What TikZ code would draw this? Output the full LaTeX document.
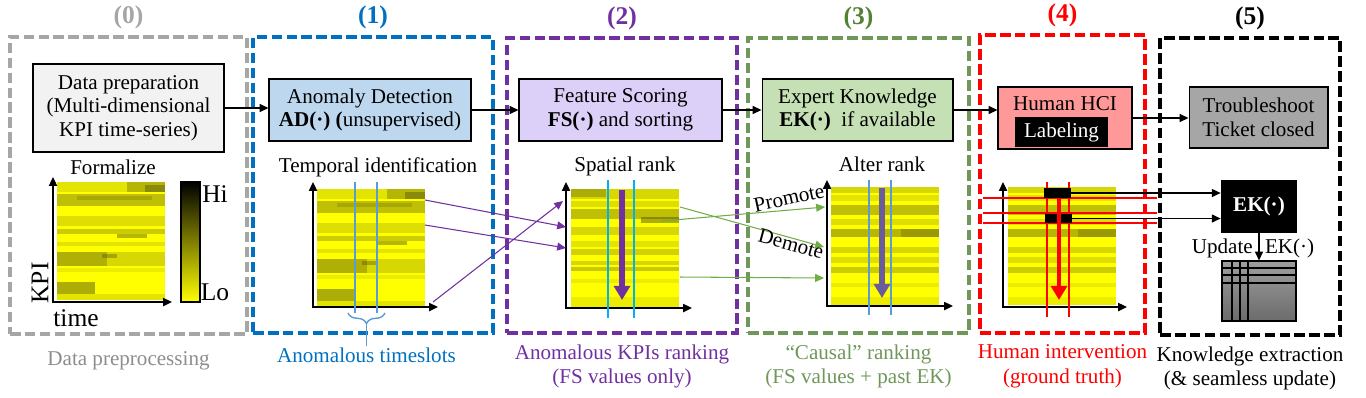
\documentclass[tikz,border=0pt]{standalone}
\usepackage{fontspec}
\setmainfont{Liberation Serif}
\usepackage{xcolor}
\usepackage{tikz}
\usetikzlibrary{arrows.meta,positioning,decorations.pathreplacing}

\definecolor{stgray}{HTML}{A6A6A6}
\definecolor{stblue}{HTML}{0070C0}
\definecolor{stpurple}{HTML}{7030A0}
\definecolor{stgreen}{HTML}{70975A}
\definecolor{stdkgreen}{HTML}{548235}
\definecolor{stred}{HTML}{FF0000}
\definecolor{prepfill}{HTML}{F2F2F2}
\definecolor{adfill}{HTML}{BDD7EE}
\definecolor{fsfill}{HTML}{DCD0F8}
\definecolor{ekfill}{HTML}{C5E0B4}
\definecolor{hcifill}{HTML}{FF9999}
\definecolor{mapyellow}{HTML}{FFFF00}
\definecolor{mapdark}{HTML}{4A4A10}
\definecolor{slotblue}{HTML}{5B9BD5}
\definecolor{slotcyan}{HTML}{00B0F0}
\definecolor{arrgreen}{HTML}{70AD47}
\definecolor{alterarr}{HTML}{6A5C9C}

% heat map of KPIs: top-left corner x, y, list of stripes
\newcommand{\kpimap}[3]{%
  \begin{scope}[shift={(#1,#2)}]
    \fill[mapyellow] (0,0) rectangle (108,118);
    \foreach \ya/\yb/\xa/\xb/\op in #3
      \fill[mapdark, opacity=\op] (\xa,\ya) rectangle (\xb,\yb);
  \end{scope}}

\def\mapraw{0/10/0/108/0.15, 0/10/70/108/0.3, 3/10/88/108/0.4, 12/24/0/108/0.35,
  14/18/20/95/0.2, 34/44/0/108/0.18, 47/52/0/108/0.28, 52/56/60/90/0.4,
  60/64/0/108/0.15, 70/84/0/108/0.22, 70/84/0/50/0.28, 72/76/45/60/0.35,
  86/90/0/108/0.1, 100/112/0/38/0.45, 112/118/0/108/0.15}
\def\mapsorted{0/10/0/108/0.22, 0/8/0/35/0.3, 12/18/0/108/0.18, 20/30/0/108/0.35,
  28/34/70/108/0.45, 38/46/0/108/0.22, 52/58/0/108/0.15, 60/66/0/108/0.25,
  72/76/0/108/0.22, 78/82/0/108/0.3, 90/94/0/108/0.1, 108/118/0/108/0.1}
\def\mapaltered{0/6/0/108/0.22, 8/14/0/108/0.15, 18/28/0/108/0.35, 32/38/0/108/0.18,
  42/50/0/108/0.4, 42/50/70/108/0.25, 60/66/0/108/0.22, 70/76/0/108/0.18,
  80/86/0/108/0.28, 96/100/0/108/0.1, 110/118/0/108/0.1}

\begin{document}
\begin{tikzpicture}[
  % --- global style ---
  x=0.02cm, y=-0.02cm,
  >={Triangle[length=5pt,width=4.5pt]},
  every node/.style={font=\fontsize{12}{13.5}\selectfont, inner sep=1pt},
  panel/.style={
    dash pattern=on 6pt off 2.5pt, line width=2.2pt,
    inner sep=0pt
  },
  box/.style={
    draw, line width=0.6pt, align=center,
    minimum height=1.24cm
  },
  title/.style={font=\fontsize{14.5}{16}\selectfont\bfseries},
  caption/.style={align=center, font=\fontsize{12}{13.8}\selectfont},
  big/.style={font=\fontsize{14.5}{16}\selectfont},
  axis/.style={<->, line width=1.1pt},
  arr/.style={->, line width=0.8pt},
  parr/.style={->, stpurple, line width=0.6pt},
  garr/.style={->, arrgreen, line width=0.6pt},
  slot/.style={line width=0.8pt},
  rankarr/.style={-{Triangle[length=8pt,width=9pt]}, line width=3pt},
  redline/.style={stred, line width=0.7pt},
]
\useasboundingbox (0,0) rectangle (1366,397);

% ====== Dashed panels ======
\node[panel, draw=stgray, minimum width=4.74cm, minimum height=5.94cm] (p0) at (128.5,185.5) {};
\node[panel, draw=stblue, minimum width=4.8cm, minimum height=5.92cm] (p1) at (373,185) {};
\node[panel, draw=stpurple, minimum width=4.6cm, minimum height=5.9cm] (p2) at (622,185.5) {};
\node[panel, draw=stgreen, minimum width=4.42cm, minimum height=5.9cm] (p3) at (858.5,185.5) {};
\node[panel, draw=stred, minimum width=3.3cm, minimum height=5.96cm] (p4) at (1062.5,184) {};
\node[panel, draw=black, minimum width=3.6cm, minimum height=5.94cm] (p5) at (1250,186.5) {};

% titles
\node[title, text=stgray, above=0.08cm of p0] {(0)};
\node[title, text=stblue, above=0.08cm of p1] {(1)};
\node[title, text=stpurple, above=0.08cm of p2] {(2)};
\node[title, text=stdkgreen, above=0.08cm of p3] {(3)};
\node[title, text=stred, above=0.08cm of p4] {(4)};
\node[title, above=0.08cm of p5] {(5)};

% captions
\node[caption, text=stgray!85!black, below=0.28cm of p0] {Data preprocessing};
\node[caption, text=stpurple, below=0.16cm of p2] {Anomalous KPIs ranking\\(FS values only)};
\node[caption, text=stgreen, below=0.16cm of p3] {“Causal” ranking\\(FS values + past EK)};
\node[caption, text=stred, below=0.16cm of p4] {Human intervention\\(ground truth)};
\node[caption, below=0.16cm of p5] {Knowledge extraction\\(\& seamless update)};

% ====== Main pipeline ======
\node[box, fill=prepfill, minimum width=3.82cm, minimum height=1.76cm] (prep) at (128.5,108)
  {Data preparation\\(Multi-dimensional\\KPI time-series)};
\node[box, fill=adfill, minimum width=4.04cm] (ad) at (370,110)
  {Anomaly Detection\\\textbf{AD(·) (}unsupervised)};
\node[box, fill=fsfill, minimum width=4.06cm] (fs) at (620.5,110)
  {Feature Scoring\\\textbf{FS(·)} and sorting};
\node[box, fill=ekfill, minimum width=3.82cm] (ek) at (857.5,110)
  {Expert Knowledge\\\textbf{EK(·)}\ \ if available};
\node[box, fill=hcifill, minimum width=2.68cm] (hci) at (1065,118) {};
\node (hcitext) at (1065,104) {Human HCI};
\node[fill=black, text=white, minimum width=1.86cm, minimum height=0.6cm, inner sep=0pt]
  (labeling) at (1061.5,132) {Labeling};
\node[box, fill=stgray, minimum width=2.78cm, minimum height=1.22cm] (ticket) at (1258.5,117.5)
  {Troubleshoot\\Ticket closed};

\draw[arr] (prep.east) -- (prep.east -| ad.west);
\draw[arr] (ad) -- (fs);
\draw[arr] (fs) -- (ek);
\draw[arr] (ek.east) -- (ek.east -| hci.west);
\draw[arr] (hci.east) -- (hci.east -| ticket.west);

% ====== Sub-titles ======
\node (formalize) at (113,167) {Formalize};
\node (temporal) at (378,167) {Temporal identification};
\node (spatial) at (625,166) {Spatial rank};
\node (alter) at (882,164) {Alter rank};

% ====== (0) raw KPI map ======
\kpimap{57}{182}{\mapraw}
\draw[axis] (53,177) |- (172,302);
\node[draw, line width=0.6pt, minimum width=0.38cm, minimum height=2.4cm,
  top color=black, middle color=mapyellow!55!black, bottom color=mapyellow] (cbar) at (190.5,242) {};
\node[big] (hi) at (215,194) {Hi};
\node[big] (lo) at (215,292) {Lo};
\node[big, rotate=90] (kpi) at (40,283) {KPI};
\node[big] (time) at (76,318) {time};

% ====== (1) temporal identification ======
\kpimap{317}{189}{\mapraw}
\draw[axis] (313,182) |- (438,307);
\draw[slot, slotblue] (355,182) -- (355,313);
\draw[slot, slotblue] (377,182) -- (377,313);
\draw[slotblue, line width=0.8pt, decorate, decoration={brace, mirror, amplitude=6pt}]
  (348,313) -- (385,313);
\coordinate (slotstem) at (366.5,346);
\draw[slotblue, line width=0.8pt] (366.5,324) -- (slotstem);
\node[caption, text=stblue, below=0pt of slotstem] {Anomalous timeslots};

% ====== (2) spatial rank ======
\kpimap{571}{189}{\mapsorted}
\draw[axis] (566,182) |- (692,308);
\draw[slot, slotcyan] (608,180) -- (608,318);
\draw[slot, slotcyan] (634,180) -- (634,318);
\draw[rankarr, stpurple] (622,190) -- (622,300);

% anomalous KPIs moved to the top
\coordinate (a1) at (425,200);
\coordinate (b1) at (566,227);
\coordinate (a2) at (425,225);
\coordinate (b2) at (566,248);
\coordinate (a3) at (433,302);
\coordinate (b3) at (563,201);
\draw[parr] (a1) -- (b1);
\draw[parr] (a2) -- (b2);
\draw[parr] (a3) -- (b3);

% ====== (3) alter rank ======
\kpimap{831}{187}{\mapaltered}
\draw[axis] (827,180) |- (953,306);
\draw[slot, slotblue] (869,180) -- (869,315);
\draw[slot, slotblue] (891,180) -- (891,315);
\draw[rankarr, alterarr] (882,188) -- (882,298);

\coordinate (c1) at (662,221);
\coordinate (d1) at (825,207);
\coordinate (c2) at (680,207);
\coordinate (d2) at (824,247);
\coordinate (c3) at (680,277);
\coordinate (d3) at (824,278);
\draw[garr] (c1) -- (d1);
\draw[garr] (c2) -- (d2);
\draw[garr] (c3) -- (d3);
\node[rotate=12, inner sep=0pt] (promote) at (789,198) {Promote};
\node[rotate=-15, inner sep=0pt] (demote) at (791,244) {Demote};

% ====== (4) human labeling ======
\kpimap{1008}{187}{\mapaltered}
\draw[axis] (1003,182) |- (1127,307);
\draw[redline] (1047,182) -- (1047,317);
\draw[redline] (1069,182) -- (1069,317);
\foreach \yy in {198,213,223}
  \draw[redline] (983,\yy) -- (1157,\yy);
\node[fill=black, minimum width=0.54cm, minimum height=0.2cm, inner sep=0pt] (bar1) at (1057.5,193) {};
\node[fill=black, minimum width=0.54cm, minimum height=0.18cm, inner sep=0pt] (bar2) at (1058.5,218.5) {};
\draw[rankarr, stred, line width=2.8pt] (1059,199) -- (1059,300);

% ====== (5) knowledge extraction ======
\node[fill=black, text=white, font=\fontsize{12}{13.5}\selectfont\bfseries,
  minimum width=1.52cm, minimum height=1.06cm] (ekfn) at (1259,206.5) {EK(·)};
\node[draw, line width=0.6pt, top color=black!38, bottom color=black!58,
  minimum width=1.48cm, minimum height=1.2cm, inner sep=0pt] (table) at (1259,291) {};
\foreach \yy in {268,275,283}
  \draw[line width=0.6pt] (table.west |- 0,\yy) -- (table.east |- 0,\yy);
\foreach \xx in {1232,1240,1248}
  \draw[line width=0.6pt] (table.north -| \xx,0) -- (table.south -| \xx,0);

\draw[arr] (bar1.east) -- (bar1.east -| ekfn.west);
\draw[arr] (bar2.east) -- (bar2.east -| ekfn.west);
\draw[arr] (ekfn) -- (table);
\node (update) at (1253,248) {Update\hspace{7pt}EK(·)};

\end{tikzpicture}
\end{document}
